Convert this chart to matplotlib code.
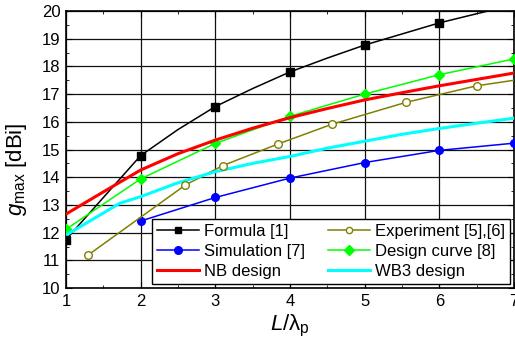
import numpy as np
import matplotlib
matplotlib.use('Agg')
import matplotlib.pyplot as plt
from matplotlib.ticker import MultipleLocator

plt.rcParams['font.family'] = ['Liberation Sans', 'DejaVu Sans']
plt.rcParams['mathtext.fontset'] = 'custom'
plt.rcParams['mathtext.it'] = 'Liberation Sans:italic'
plt.rcParams['mathtext.rm'] = 'Liberation Sans'

# Formula [1]
form_x = [1, 2, 2.5, 3, 3.5, 4, 4.5, 5, 5.5, 6, 6.5, 7]
form_y = [11.75, 14.78, 15.72, 16.55, 17.2, 17.8, 18.3, 18.77, 19.17, 19.57, 19.9, 20.22]
form_mx = [1, 2, 3, 4, 5, 6]
form_my = [11.75, 14.78, 16.55, 17.8, 18.77, 19.57]

# Simulation [7]
sim_x = [2, 3, 4, 5, 6, 7]
sim_y = [12.42, 13.27, 13.97, 14.53, 14.97, 15.23]

# Experiment [5],[6]
exp_x = [1.3, 2.6, 3.1, 3.84, 4.56, 5.55, 6.5, 7]
exp_y = [11.2, 13.72, 14.42, 15.2, 15.91, 16.7, 17.3, 17.5]
exp_n = 7  # last point has no marker

# Design curve [8]
des_x = [1, 2, 3, 4, 5, 6, 7]
des_y = [12.12, 13.94, 15.22, 16.2, 17.0, 17.7, 18.27]

# NB design
nb_x = [1, 1.5, 2, 2.5, 3, 3.5, 4, 4.5, 5, 5.5, 6, 6.5, 7]
nb_y = [12.67, 13.47, 14.26, 14.85, 15.34, 15.77, 16.15, 16.48, 16.79, 17.05, 17.3, 17.53, 17.76]

# WB3 design
wb_x = [1, 1.72, 2, 2.5, 3, 3.5, 4, 4.5, 5, 5.5, 6, 6.5, 7]
wb_y = [11.91, 13.06, 13.3, 13.8, 14.2, 14.5, 14.75, 15.05, 15.3, 15.55, 15.76, 15.95, 16.13]

fig = plt.figure(figsize=(5.15, 3.43), dpi=100)
ax = fig.add_axes([0.128, 0.16, 0.87, 0.808])

ax.plot(form_x, form_y, color='black', lw=1.1, zorder=3)
ax.plot(form_mx, form_my, 's', color='black', ms=5.5, zorder=4)
h_form, = ax.plot([], [], '-s', color='black', lw=1.1, ms=4.5)

h_sim, = ax.plot(sim_x, sim_y, '-o', color='#0000ff', lw=1.1, ms=5.5, zorder=3)

ax.plot(exp_x, exp_y, color='#808000', lw=1.1, zorder=3)
ax.plot(exp_x[:exp_n], exp_y[:exp_n], 'o', color='#808000', mfc='white', ms=5.5, mew=1, zorder=4)
h_exp, = ax.plot([], [], '-o', color='#808000', mfc='white', lw=1.1, ms=4.5, mew=1)

h_des, = ax.plot(des_x, des_y, '-D', color='#00ff00', lw=1.1, ms=5, zorder=3)
h_nb, = ax.plot(nb_x, nb_y, color='#ff0000', lw=2.2, zorder=3)
h_wb, = ax.plot(wb_x, wb_y, color='#00ffff', lw=2.2, zorder=3)

ax.set_xlim(1, 7)
ax.set_ylim(10, 20)
ax.xaxis.set_major_locator(MultipleLocator(1))
ax.xaxis.set_minor_locator(MultipleLocator(0.5))
ax.yaxis.set_major_locator(MultipleLocator(1))
ax.yaxis.set_minor_locator(MultipleLocator(0.5))
ax.grid(True, which='major', color='#111111', lw=0.9)
ax.tick_params(which='both', direction='in', top=True, right=True, labelsize=12)
ax.tick_params(which='major', length=4, pad=4)
ax.tick_params(which='minor', length=2.5)
for s in ax.spines.values():
    s.set_linewidth(1.2)

ax.set_xlabel(r'$L$/$\mathregular{\lambda_p}$', fontsize=16, labelpad=3)
ax.set_ylabel(r'$g_{\mathregular{max}}$ [dBi]', fontsize=16)
ax.yaxis.set_label_coords(-0.082, 0.43)

leg = ax.legend([h_form, h_sim, h_nb, h_exp, h_des, h_wb],
                ['Formula [1]', 'Simulation [7]', 'NB design',
                 'Experiment [5],[6]', 'Design curve [8]', 'WB3 design'],
                ncol=2, loc='lower right', fontsize=12, frameon=True,
                fancybox=False, edgecolor='black', framealpha=1,
                handlelength=2.5, borderaxespad=0.25, columnspacing=1.4,
                handletextpad=0.3, labelspacing=0.3, borderpad=0.3)
leg.get_frame().set_linewidth(1.0)

fig.savefig('out.png', dpi=100)
